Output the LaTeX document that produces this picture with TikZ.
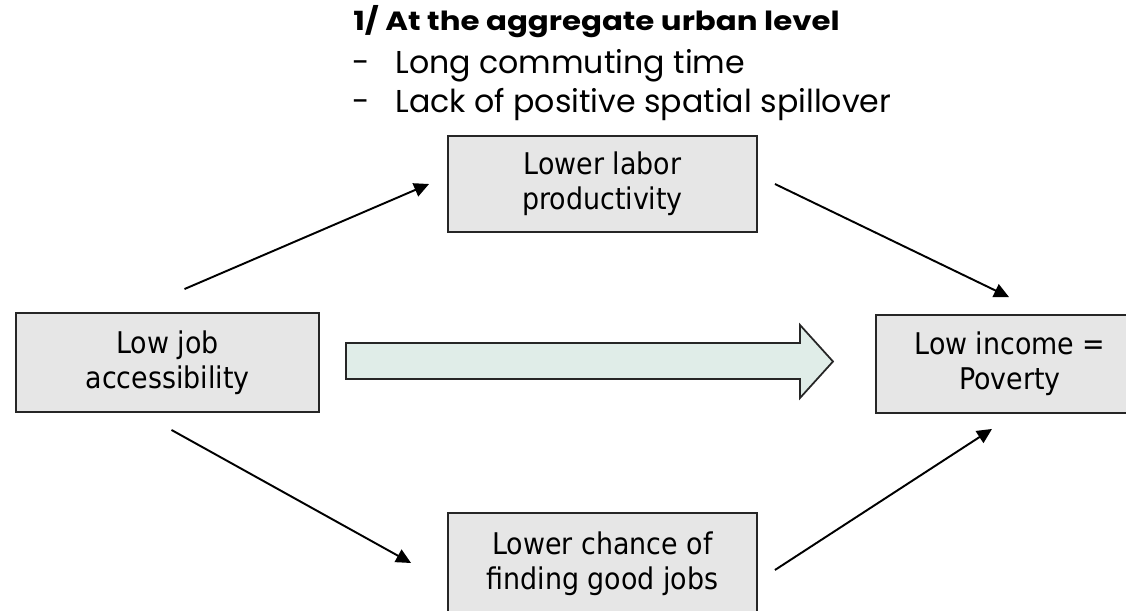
\documentclass[tikz,border=0pt]{standalone}
\usepackage{fontspec}
\setmainfont{DejaVu Sans Condensed}
\newfontfamily\gothic{Poppins}
\newfontfamily\gothicbold[FakeStretch=1.17]{Poppins Bold}
\usetikzlibrary{arrows.meta,calc}
\tikzset{>={Triangle[length=8.5pt,width=8pt]}}
\definecolor{boxgray}{RGB}{230,230,230}
\definecolor{arrowgreen}{RGB}{224,237,232}
\tikzset{
  box/.style={draw=black!85,line width=1.1pt,fill=boxgray,align=center,inner sep=0pt,
    font=\fontsize{17}{19.8}\selectfont},
  link/.style={->,line width=1.1pt},
  bullet/.style={anchor=base west,inner sep=0pt,font=\gothic\fontsize{18}{20}\selectfont}
}

\begin{document}
\begin{tikzpicture}[x=0.02cm,y=-0.02cm]
  \path[use as bounding box,clip] (0,0) rectangle (1126,611);
  % heading and bullets
  \node[bullet,font=\gothicbold\fontsize{15}{18}\selectfont] (head) at (353,31) {1/ At the aggregate urban level};
  \node[bullet] (dash1) at (352,74) {-};
  \node[bullet] (item1) at (395,74) {Long commuting time};
  \node[bullet] (dash2) at (352,113) {-};
  \node[bullet] (item2) at (395,113) {Lack of positive spatial spillover};
  % boxes
  \node[box,minimum width=6.06cm,minimum height=1.98cm] (acc) at (167.5,362.5) {Low job\\accessibility};
  \node[box,minimum width=6.18cm,minimum height=1.92cm] (prod) at (602.5,184) {Lower labor\\productivity};
  \node[box,minimum width=6.18cm,minimum height=2.04cm] (chance) at (602.5,564) {Lower chance of\\finding good jobs};
  \node[box,minimum width=5.36cm,minimum height=1.96cm] (inc) at (1010,364) {Low income =\\Poverty};
  % big arrow
  \draw[line width=1pt,draw=black!85,fill=arrowgreen] (346,343) -- (800,343) -- (800,325)
    -- (833,361.5) -- (800,398) -- (800,379) -- (346,379) -- cycle;
  % links
  \draw[link] ($(acc.north)+(17,-23)$) -- ($(prod.west)+(-18,0)$);
  \draw[link] ($(prod.east)+(17,0)$) -- ($(inc.north)+(-1,-17)$);
  \draw[link] ($(acc.south)+(4,17)$) -- ($(chance.west)+(-36,-1)$);
  \draw[link] ($(chance.east)+(17,6)$) -- ($(inc.south)+(-18,15)$);
\end{tikzpicture}
\end{document}
